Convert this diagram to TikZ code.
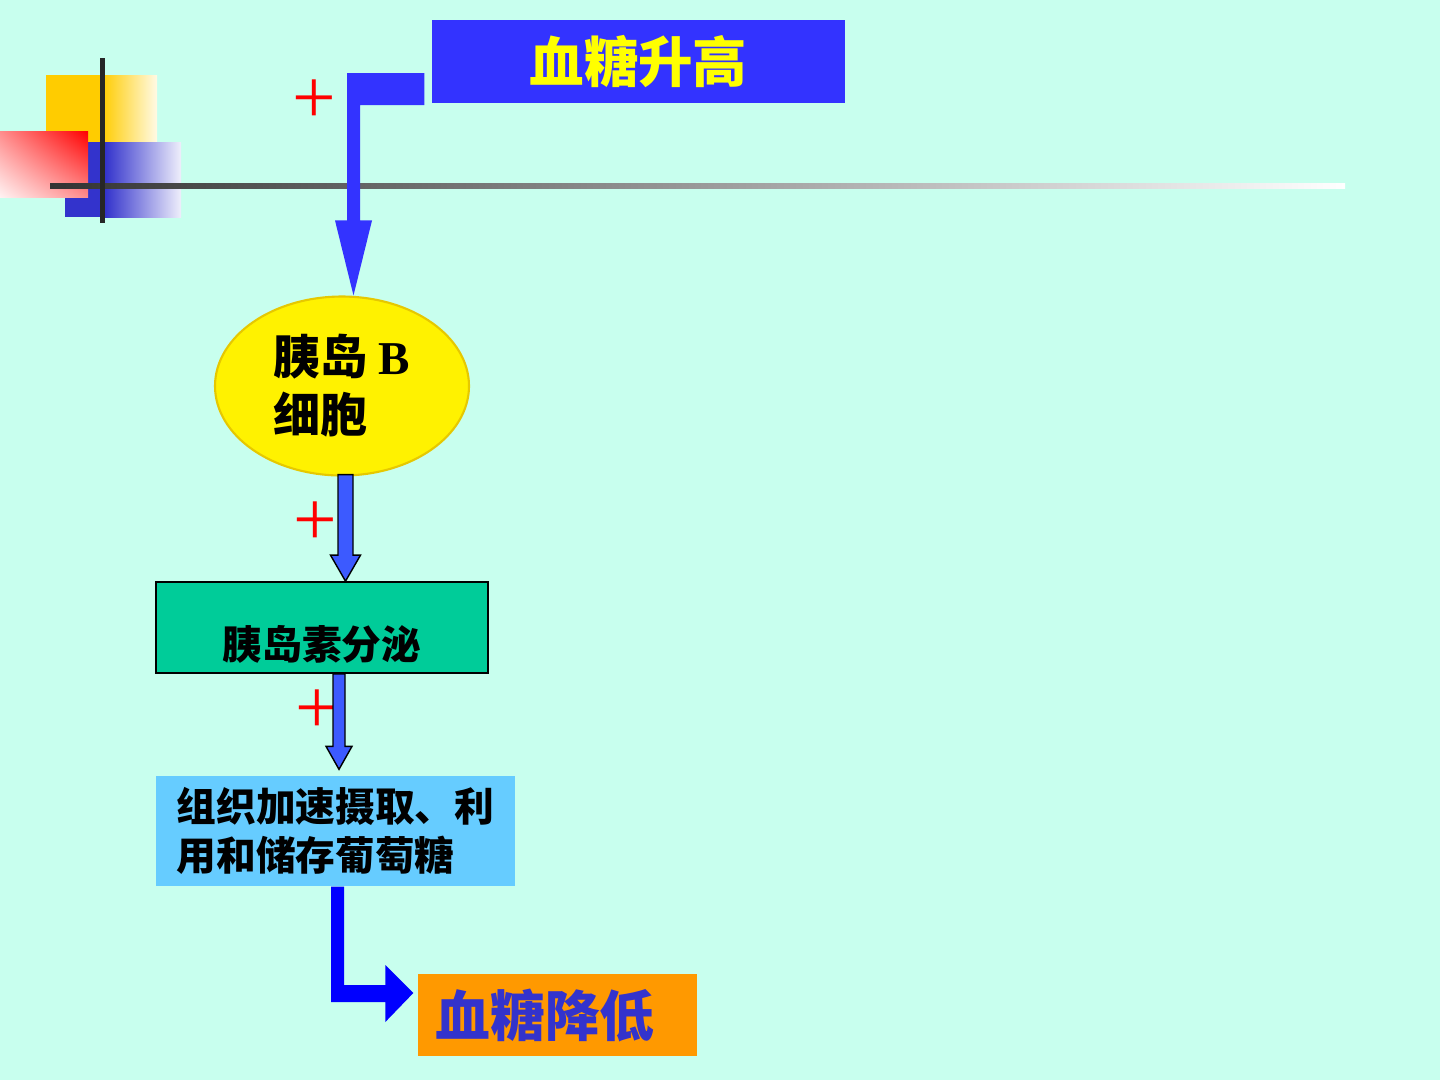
\documentclass[tikz,border=0pt]{standalone}
\usepackage{fontspec}
\newfontfamily\cjk{Noto Sans CJK SC}
\newfontfamily\tnr{Liberation Serif}
\usetikzlibrary{positioning,calc,shapes.geometric,shadings}

\definecolor{bgcyan}{RGB}{200,255,238}
\definecolor{topblue}{RGB}{51,51,255}
\definecolor{titleyellow}{RGB}{255,255,0}
\definecolor{ellborder}{RGB}{230,200,0}
\definecolor{flowblue}{RGB}{60,90,255}
\definecolor{secrgreen}{RGB}{0,204,153}
\definecolor{uptakeblue}{RGB}{102,204,255}
\definecolor{fallorange}{RGB}{255,153,0}
\definecolor{fallblue}{RGB}{51,51,204}
\definecolor{pureblue}{RGB}{0,0,255}
\definecolor{decoyellow}{RGB}{255,204,0}
\definecolor{decoblue}{RGB}{51,51,204}

\tikzset{
  boxnode/.style={rectangle, inner sep=0pt},
  plussign/.style={text=red, inner sep=0pt, font=\tnr\fontsize{22}{22}\selectfont},
  flowarrow/.style={fill=flowblue, draw=black, line width=0.4pt},
}

% block arrow pointing down: start, tip, shaft half width, head half width, head length
\newcommand{\flowdown}[5]{%
  \filldraw[flowarrow] ($(#1)+(-#3,0)$) -- ($(#1)+(#3,0)$) -- ($(#2)+(#3,-#5)$)
    -- ($(#2)+(#4,-#5)$) -- (#2) -- ($(#2)+(-#4,-#5)$) -- ($(#2)+(-#3,-#5)$) -- cycle;}

\begin{document}
\begin{tikzpicture}[x=0.1mm, y=-0.1mm]
\useasboundingbox (0,0) rectangle (1440,1080);
\fill[bgcyan] (0,0) rectangle (1440,1080);

% corner decoration
\fill[decoyellow] (46,75) rectangle (102,142);
\shade[left color=decoyellow, right color=decoyellow!10] (102,75) rectangle (157,142);
\fill[decoblue] (65,142) rectangle (105,217);
\shade[left color=decoblue, right color=decoblue!8] (105,142) rectangle (181,217);
\shade[upper right=red, lower left=red!5, upper left=red!45, lower right=red!45] (0,131) rectangle (88,197);
\shade[left color=black!80, middle color=black!55, right color=white] (50,183.5) rectangle (1345,188.5);
\fill[black!85] (99.5,58) rectangle (104.5,223);

\node[boxnode, fill=topblue, minimum width=41.3mm, minimum height=8.3mm, text=titleyellow,
  font=\cjk\bfseries\fontsize{15.5}{15.5}\selectfont] (rise) at (638.5,61.5) {血糖升高};
\node[ellipse, fill=yellow, draw=ellborder, line width=0.6pt, minimum width=25.4mm,
  minimum height=17.9mm, inner sep=0pt, align=left,
  font=\cjk\bfseries\fontsize{13.4}{16.5}\selectfont] (beta) at (342,386) {胰岛 {\tnr\bfseries B}\\细胞};
\node[boxnode, fill=secrgreen, draw=black, line width=0.5pt, minimum width=33.2mm,
  minimum height=9.1mm, text height=6.4mm, text depth=0mm,
  font=\cjk\bfseries\fontsize{11.3}{11.3}\selectfont] (secr) at (322,627.5) {胰岛素分泌};
\node[boxnode, fill=uptakeblue, minimum width=35.9mm, minimum height=11mm, align=left,
  font=\cjk\bfseries\fontsize{11.3}{14}\selectfont] (uptake) at (335.5,831) {组织加速摄取、利\\用和储存葡萄糖};
\node[boxnode, fill=fallorange, minimum width=27.9mm, minimum height=8.2mm, text=fallblue,
  text width=24.4mm, inner xsep=1.75mm, align=left,
  font=\cjk\bfseries\fontsize{15.6}{15.6}\selectfont] (fall) at (557.5,1015) {血糖降低};

\node[plussign] (plusa) at (314,102) {+};
\node[plussign] (plusb) at (315,524) {+};
\node[plussign] (plusc) at (317,712) {+};

% rise -> beta
\coordinate (ts) at ($(rise.west)+(-7,27.5)$);
\coordinate (tt) at ($(beta.north)+(11.5,0)$);
\fill[topblue] ($(ts)+(0,-16)$) -- ($(tt |- ts)+(-6.5,-16)$) -- ($(tt)+(-6.5,-75)$)
  -- ($(tt)+(-18.5,-75)$) -- (tt) -- ($(tt)+(18.5,-75)$) -- ($(tt)+(6.5,-75)$)
  -- ($(tt |- ts)+(6.5,16)$) -- ($(ts)+(0,16)$) -- cycle;

% beta -> secr -> uptake
\coordinate (fa) at ($(beta.south)+(3.5,-2)$);
\flowdown{fa}{fa |- secr.north}{7.5}{15}{26}
\coordinate (fb) at ($(secr.south)+(17,0)$);
\coordinate (fbt) at ($(fb |- uptake.north)+(0,-6)$);
\flowdown{fb}{fbt}{6}{13}{23}

% uptake -> fall
\coordinate (bs) at ($(uptake.south)+(2,0)$);
\coordinate (bt) at ($(fall.west)+(-4,-22)$);
\fill[pureblue] ($(bs)+(-6.5,0)$) -- ($(bs)+(6.5,0)$) -- ($(bs |- bt)+(6.5,-8)$)
  -- ($(bt)+(-28,-8)$) -- ($(bt)+(-28,-28)$) -- (bt) -- ($(bt)+(-28,29)$)
  -- ($(bt)+(-28,9)$) -- ($(bs |- bt)+(-6.5,9)$) -- cycle;
\end{tikzpicture}
\end{document}
